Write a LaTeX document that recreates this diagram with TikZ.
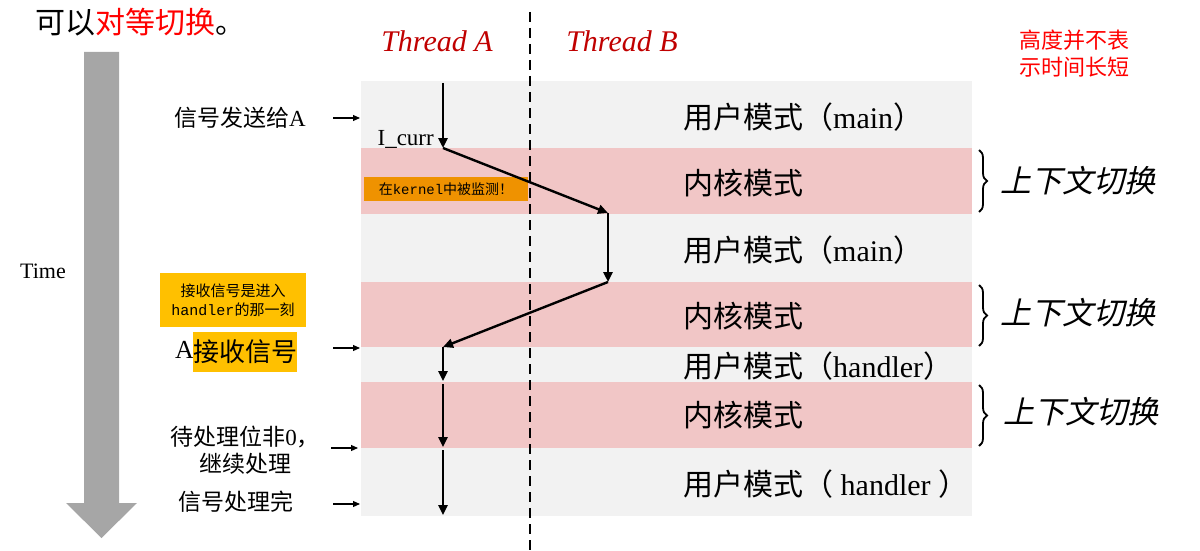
\documentclass[tikz,border=0pt]{standalone}
\usepackage{fontspec}
\setmainfont{Liberation Serif}
\setmonofont{Liberation Mono}
\newfontfamily\cjk{Noto Sans CJK SC}
\newfontfamily\cjkit[FakeSlant=0.22]{Noto Sans CJK SC}
\usetikzlibrary{arrows.meta,decorations.pathreplacing}
\definecolor{bandgray}{HTML}{F2F2F2}
\definecolor{bandpink}{HTML}{F1C6C6}
\definecolor{threadred}{HTML}{C00000}
\definecolor{notered}{HTML}{FF0000}
\definecolor{timegray}{HTML}{A6A6A6}
\definecolor{boxorange}{HTML}{EF9200}
\definecolor{boxgold}{HTML}{FFC000}
\tikzset{
  usermode/.style={fill=bandgray,draw=none},
  kernelmode/.style={fill=bandpink,draw=none},
  bandtext/.style={anchor=west,inner sep=0pt,font=\fontsize{30}{32}\selectfont},
  flow/.style={line width=2.4pt,-{Triangle[length=10pt,width=9pt]}},
  pointer/.style={line width=1.1pt,-{Triangle[length=7pt,width=6pt]}},
  lefttext/.style={inner sep=0pt,font=\fontsize{23}{27}\selectfont},
  ctxbrace/.style={decorate,decoration={brace,amplitude=8pt},line width=1.8pt},
  ctxtext/.style={anchor=west,inner sep=0pt,font=\cjkit\fontsize{31}{33}\selectfont}
}
\begin{document}
\begin{tikzpicture}[x=1pt,y=-1pt]
\useasboundingbox (0,0) rectangle (1200,551);
% bands
\fill[usermode] (361,81) rectangle (972,148);
\fill[kernelmode] (361,148) rectangle (972,214);
\fill[usermode] (361,214) rectangle (972,282);
\fill[kernelmode] (361,282) rectangle (972,347);
\fill[usermode] (361,347) rectangle (972,382);
\fill[kernelmode] (361,382) rectangle (972,448);
\fill[usermode] (361,448) rectangle (972,516);
% time arrow
\fill[timegray] (84,52) -- (119,52) -- (119,503) -- (137,503) -- (101.5,538) -- (66,503) -- (84,503) -- cycle;
\node[inner sep=0pt,font=\fontsize{22}{24}\selectfont] (time) at (43,271) {Time};
% title
\node[anchor=west,inner sep=0pt,font=\cjk\fontsize{30}{32}\selectfont] (title) at (35,22) {可以\textcolor{notered}{对等切换}。};
% thread headers
\node[inner sep=0pt,text=threadred,font=\itshape\fontsize{30}{32}\selectfont] (ta) at (437,41) {Thread A};
\node[inner sep=0pt,text=threadred,font=\itshape\fontsize{30}{32}\selectfont] (tb) at (622,41) {Thread B};
\node[inner sep=0pt,text=notered,align=center,font=\cjk\fontsize{22}{27}\selectfont] (note) at (1074,54) {高度并不表\\示时间长短};
% dashed divider
\coordinate (dtop) at (530,12);
\coordinate (dbot) at (530,551);
\draw[line width=2.6pt,dash pattern=on 10pt off 6pt] (dtop) -- (dbot);
% band labels
\node[bandtext] (u1) at (683,117) {{\cjk 用户模式（}main{\cjk ）}};
\node[bandtext] (k1) at (683,183) {\cjk 内核模式};
\node[bandtext] (u2) at (683,250) {{\cjk 用户模式（}main{\cjk ）}};
\node[bandtext] (k2) at (683,316) {\cjk 内核模式};
\node[bandtext] (u3) at (683,366) {{\cjk 用户模式（}handler{\cjk ）}};
\node[bandtext] (k3) at (683,415) {\cjk 内核模式};
\node[bandtext] (u4) at (683,484) {{\cjk 用户模式（} handler {\cjk ）}};
% braces
\coordinate (b1t) at (979,150); \coordinate (b1b) at (979,212);
\coordinate (b2t) at (979,285); \coordinate (b2b) at (979,346);
\coordinate (b3t) at (979,385); \coordinate (b3b) at (979,446);
\draw[ctxbrace] (b1t) -- (b1b);
\draw[ctxbrace] (b2t) -- (b2b);
\draw[ctxbrace] (b3t) -- (b3b);
\node[ctxtext] (c1) at (1000,181) {上下文切换};
\node[ctxtext] (c2) at (1000,313) {上下文切换};
\node[ctxtext] (c3) at (1003,412) {上下文切换};
% orange notes
\node[fill=boxorange,minimum width=164pt,minimum height=24pt,inner sep=0pt,font=\cjk\fontsize{14}{16}\selectfont] (kern) at (446,189) {在{\ttfamily kernel}中被监测！};
\node[fill=boxgold,minimum width=146pt,minimum height=54pt,inner sep=0pt,align=center,font=\cjk\fontsize{15}{19}\selectfont] (hnote) at (233,300) {接收信号是进入\\{\ttfamily handler}的那一刻};
% left labels
\node[lefttext,anchor=east] (l1) at (306,118) {{\cjk 信号发送给}A};
\node[inner sep=0pt,anchor=east,font=\fontsize{26}{28}\selectfont] (aa) at (194,350) {A};
\node[fill=boxgold,minimum width=104pt,minimum height=40pt,inner sep=0pt,font=\cjk\fontsize{26}{28}\selectfont,anchor=west] (l2) at (193,352) {接收信号};
\node[lefttext,align=center] (l3) at (245,450) {{\cjk 待处理位非}0{\cjk ，}\\{\cjk 继续处理}};
\node[lefttext,font=\cjk\fontsize{23}{27}\selectfont] (l4) at (236,502) {信号处理完};
\node[inner sep=0pt,anchor=east,font=\fontsize{23}{25}\selectfont] (icurr) at (434,139) {I\_curr};
% pointer arrows
\coordinate (a1s) at (333,118); \coordinate (a1e) at (360,118);
\coordinate (a2s) at (333,348); \coordinate (a2e) at (360,348);
\coordinate (a3s) at (331,448); \coordinate (a3e) at (358,448);
\coordinate (a4s) at (333,504); \coordinate (a4e) at (360,504);
\draw[pointer] (a1s) -- (a1e);
\draw[pointer] (a2s) -- (a2e);
\draw[pointer] (a3s) -- (a3e);
\draw[pointer] (a4s) -- (a4e);
% flow
\coordinate (p0) at (443,83);
\coordinate (p1) at (443,148);
\coordinate (p2) at (608,213);
\coordinate (p3) at (608,282);
\coordinate (p4) at (443,347);
\coordinate (p5) at (443,381);
\coordinate (p6) at (443,384);
\coordinate (p7) at (443,447);
\coordinate (p8) at (443,450);
\coordinate (p9) at (443,515);
\draw[flow] (p0) -- (p1);
\draw[flow] (p1) -- (p2);
\draw[flow] (p2) -- (p3);
\draw[flow] (p3) -- (p4);
\draw[flow] (p4) -- (p5);
\draw[flow] (p6) -- (p7);
\draw[flow] (p8) -- (p9);
\end{tikzpicture}
\end{document}
